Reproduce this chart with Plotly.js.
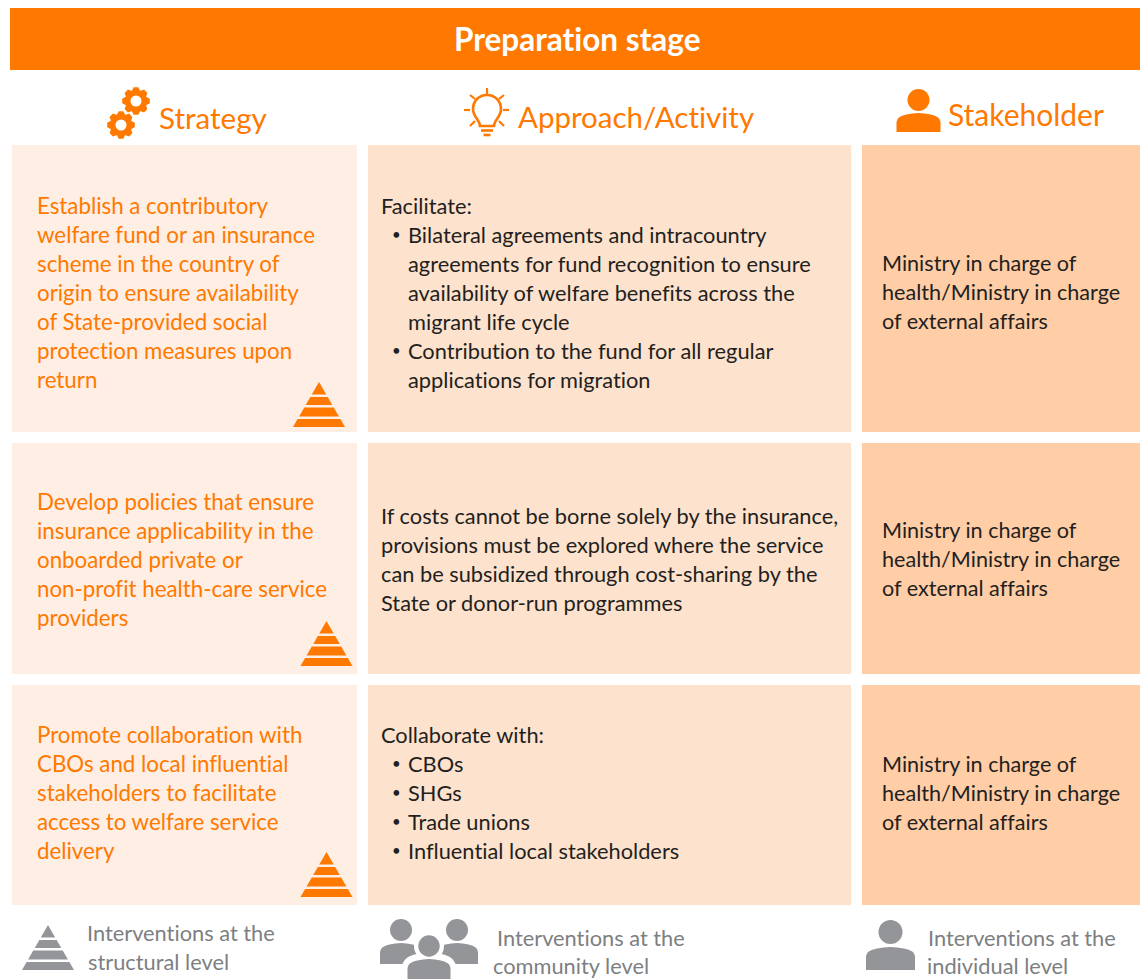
<!DOCTYPE html>
<html>
<head>
<meta charset="utf-8">
<script src="https://cdn.plot.ly/plotly-3.0.1.min.js"></script>
<style>
html,body{margin:0;padding:0;background:#fff;overflow:hidden}
svg text{font-variant-ligatures:none;font-feature-settings:"liga" 0,"clig" 0}
</style>
</head>
<body>
<div id="chart" style="width:1140px;height:979px"></div>
<script>
const bannerTitle = "Preparation stage";
const columnHeads = ["Strategy", "Approach/Activity", "Stakeholder"];

const strategyRow1 = ["Establish a contributory","welfare fund or an insurance","scheme in the country of","origin to ensure availability","of State-provided social","protection measures upon","return"];
const strategyRow2 = ["Develop policies that ensure","insurance applicability in the","onboarded private or","non-profit health-care service","providers"];
const strategyRow3 = ["Promote collaboration with","CBOs and local influential","stakeholders to facilitate","access to welfare service","delivery"];

const approachRow1 = ["Facilitate:","• Bilateral agreements and intracountry","  agreements for fund recognition to ensure","  availability of welfare benefits across the","  migrant life cycle","• Contribution to the fund for all regular","  applications for migration"];
const approachRow2 = ["If costs cannot be borne solely by the insurance,","provisions must be explored where the service","can be subsidized through cost-sharing by the","State or donor-run programmes"];
const approachRow3 = ["Collaborate with:","• CBOs","• SHGs","• Trade unions","• Influential local stakeholders"];

const stakeholderLines = ["Ministry in charge of","health/Ministry in charge","of external affairs"];

const legendStructural = ["Interventions at the","structural level"];
const legendCommunity = ["Interventions at the","community level"];
const legendIndividual = ["Interventions at the","individual level"];

const ORANGE = "#FF7900", GREY = "#939598", LEGTXT = "#7d7f82", INK = "#231f20";
const FONT = "Lato, 'Open Sans', sans-serif";
const shapes = [], annotations = [];

function rect(x0, y0, x1, y1, color) {
  shapes.push({type:"rect", xref:"x", yref:"y", x0, y0, x1, y1, fillcolor:color, line:{width:0}, layer:"below"});
}
function path(d, fill, stroke, sw) {
  shapes.push({type:"path", xref:"x", yref:"y", path:d, fillcolor:fill || "rgba(0,0,0,0)",
    line: stroke ? {color:stroke, width:sw} : {width:0}, layer:"above"});
}
function circle(cx, cy, r, fill, stroke, sw) {
  shapes.push({type:"circle", xref:"x", yref:"y", x0:cx-r, x1:cx+r, y0:cy-r, y1:cy+r, fillcolor:fill || "rgba(0,0,0,0)",
    line: stroke ? {color:stroke, width:sw} : {width:0}, layer:"above"});
}
function text(str, x, y, size, color, anchor, bold) {
  annotations.push({xref:"x", yref:"y", x, y, text: bold ? "<b>"+str+"</b>" : str, showarrow:false,
    xanchor:anchor || "left", yanchor:"middle", borderpad:0, borderwidth:0, align:"left",
    font:{family:FONT, size, color}});
}
function block(lines, x, ys, size, color) {
  lines.forEach((l, i) => {
    if (l.startsWith("• ")) {
      text("•", x + 11, ys[i], 15, color);
      text(l.slice(2), x + 27, ys[i], size, color);
    } else if (l.startsWith("  ")) {
      text(l.trim(), x + 27, ys[i], size, color);
    } else {
      text(l, x, ys[i], size, color);
    }
  });
}
function pyramid(cx, top, color) {
  const h = 45, half = 26;
  const bands = [[0,12.5],[15,23],[25.5,34.5],[37,45]];
  bands.forEach(([a,b]) => {
    const wa = half*a/h, wb = half*b/h;
    path(`M${cx-wa},${top+a} L${cx+wa},${top+a} L${cx+wb},${top+b} L${cx-wb},${top+b} Z`, color);
  });
}
function gear(cx, cy, r, hole) {
  const teeth = 8; let d = "";
  for (let i = 0; i < teeth; i++) {
    const a = i*2*Math.PI/teeth, s = Math.PI/teeth;
    const pts = [[a-s*0.9,r*0.8],[a-s*0.42,r*1.0],[a+s*0.42,r*1.0],[a+s*0.9,r*0.8]];
    pts.forEach(([t,q]) => {
      d += (d ? " L" : "M") + (cx+q*Math.cos(t)).toFixed(1) + "," + (cy+q*Math.sin(t)).toFixed(1);
    });
  }
  path(d + " Z", ORANGE);
  circle(cx, cy, hole, "#ffffff");
}
function person(cx, headY, headR, halfW, top, bottom, color) {
  circle(cx, headY, headR, color);
  const q = halfW*0.55;
  path(`M${cx-halfW},${bottom} L${cx-halfW},${top+9} Q${cx-halfW},${top+3.5} ${cx-q},${top+1.5} Q${cx},${top-1.5} ${cx+q},${top+1.5} Q${cx+halfW},${top+3.5} ${cx+halfW},${top+9} L${cx+halfW},${bottom} Z`, color);
}

/* banner */
rect(10, 8, 1140, 70, ORANGE);
text(bannerTitle, 577.5, 39, 31.5, "#ffffff", "center", true);

/* cells */
const colX = [[12,357,"#FEEEE3"],[368,851,"#FDE2CD"],[862,1140,"#FFCDA6"]];
const rowY = [[145,432],[443,674],[685,905]];
rowY.forEach(r => colX.forEach(c => rect(c[0], r[0], c[1], r[1], c[2])));

/* column heads */
text(columnHeads[0], 159, 117, 29.6, ORANGE);
text(columnHeads[1], 518, 116, 29.5, ORANGE);
text(columnHeads[2], 948, 114, 30, ORANGE);

gear(136, 101, 14, 5.5);
gear(121, 125, 14, 5.5);

/* bulb */
path("M480,126 C480,120 473,117 473,109 C473,101 479,95 487,95 C495,95 501,101 501,109 C501,117 494,120 494,126 Z", null, ORANGE, 2.6);
path("M481,130.5 L493,130.5", null, ORANGE, 2.6);
path("M483.5,135 L490.5,135", null, ORANGE, 2.6);
path("M487,88 L487,94", null, ORANGE, 2.2);
path("M464,110 L470,110", null, ORANGE, 2.2);
path("M503,110 L509,110", null, ORANGE, 2.2);
path("M470,95 L475,99", null, ORANGE, 2.2);
path("M504,95 L499,99", null, ORANGE, 2.2);
path("M470,126 L475,121", null, ORANGE, 2.2);
path("M504,126 L499,121", null, ORANGE, 2.2);

person(918.5, 100, 11, 22, 113, 132, ORANGE);

/* strategy */
const rowLines = (first, n) => Array.from({length:n}, (_, i) => first + i*29);
block(strategyRow1, 36.5, rowLines(205,7), 22.3, ORANGE);
block(strategyRow2, 36.5, rowLines(501,5), 22.3, ORANGE);
block(strategyRow3, 36.5, rowLines(734,5), 22.3, ORANGE);
pyramid(319, 382, ORANGE);
pyramid(326.5, 621, ORANGE);
pyramid(326.5, 852, ORANGE);

/* approach */
block(approachRow1, 381, rowLines(205,7), 21.8, INK);
block(approachRow2, 381, rowLines(515,4), 21.8, INK);
block(approachRow3, 381, rowLines(734,5), 21.8, INK);

/* stakeholder */
block(stakeholderLines, 882, rowLines(263,3), 21.6, INK);
block(stakeholderLines, 882, rowLines(530,3), 21.6, INK);
block(stakeholderLines, 882, rowLines(764,3), 21.6, INK);

/* legend */
pyramid(48, 925, GREY);
text(legendStructural[0], 87, 932, 21.8, LEGTXT);
text(legendStructural[1], 88, 961, 21.8, LEGTXT);
person(401, 930, 11, 21, 943, 964, GREY);
person(457, 930, 11, 21, 943, 964, GREY);
circle(429, 946, 15, "#ffffff");
path("M402,979 L402,966 Q404,953 429,953 Q454,953 456,966 L456,979 Z", "#ffffff");
person(429, 946, 10.7, 21.5, 959, 979, GREY);
text(legendCommunity[0], 497, 937, 21.8, LEGTXT);
text(legendCommunity[1], 493, 965, 21.8, LEGTXT);
person(890.5, 932, 12, 24.5, 947, 970, GREY);
text(legendIndividual[0], 928, 937, 21.8, LEGTXT);
text(legendIndividual[1], 927, 965, 21.8, LEGTXT);

const hidden = {visible:false, fixedrange:true};
Plotly.newPlot("chart", [{x:[0,1140], y:[0,979], mode:"markers", marker:{opacity:0}, hoverinfo:"skip", showlegend:false}], {
  width:1140, height:979,
  margin:{l:0,r:0,t:0,b:0,pad:0},
  paper_bgcolor:"#ffffff", plot_bgcolor:"#ffffff",
  xaxis:Object.assign({range:[0,1140]}, hidden),
  yaxis:Object.assign({range:[979,0]}, hidden),
  shapes, annotations, showlegend:false
}, {displayModeBar:false, staticPlot:true});
</script>
</body>
</html>
